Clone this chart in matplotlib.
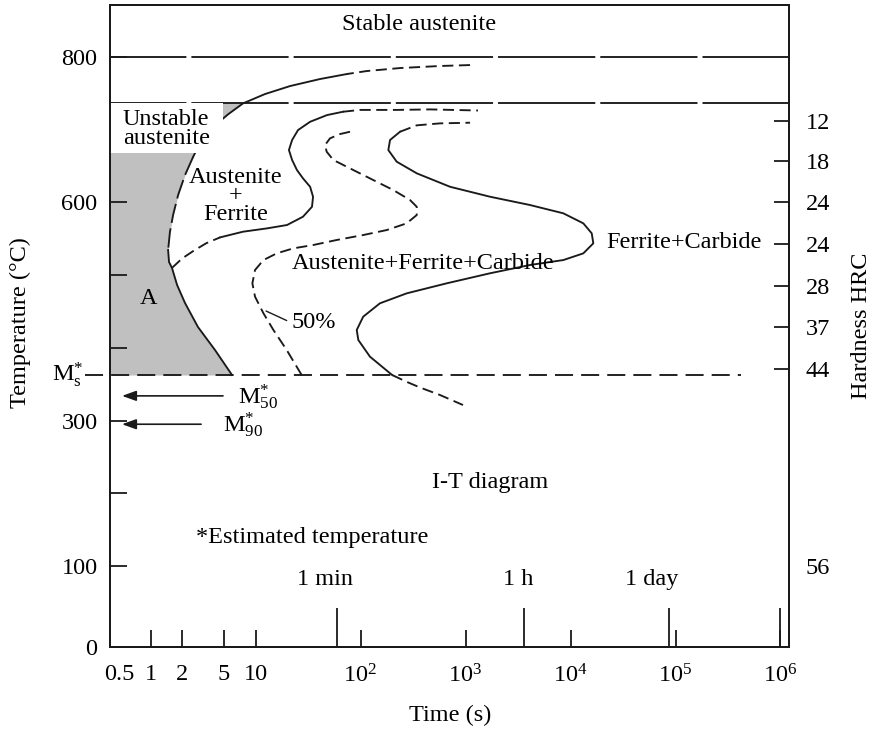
import numpy as np
import matplotlib
matplotlib.use('Agg')
import matplotlib.pyplot as plt
import matplotlib.transforms as mtransforms
from matplotlib.patches import Rectangle
from matplotlib.ticker import FixedLocator, FixedFormatter, NullFormatter, NullLocator

plt.rcParams['font.family'] = ['Liberation Serif', 'DejaVu Serif']
plt.rcParams['mathtext.fontset'] = 'custom'
plt.rcParams['mathtext.rm'] = 'Liberation Serif'
plt.rcParams['mathtext.it'] = 'Liberation Serif:italic'
plt.rcParams['lines.scale_dashes'] = False

# critical temperatures (deg C)
A3_TEMP = 800
A1_TEMP = 737
MS_TEMP = 363
M50_TEMP = 334
M90_TEMP = 295

# ferrite start curve, split where the line style changes (time s, temperature C)
fs_top_t = [1104, 571, 238, 115, 74.4]
fs_top_T = [789.0, 787.7, 784.9, 780.8, 776.7]
fs_upper_t = [74.4, 41.2, 21.3, 12.3, 7.60, 5.47, 4.11, 2.96, 2.54]
fs_upper_T = [776.7, 769.8, 760.1, 749.1, 736.3, 721.2, 706.0, 681.8, 662.5]
fs_mid_t = [2.54, 2.13, 1.83, 1.64, 1.53, 1.47]
fs_mid_T = [662.5, 637.7, 610.2, 582.8, 559.4, 534.6]
fs_low_t = [1.47, 1.50, 1.60, 1.79, 2.13, 2.83, 4.11, 5.97]
fs_low_T = [534.6, 518.1, 510.0, 486.5, 461.7, 428.7, 397.1, 362.7]

# austenite + ferrite boundary
af_start_t = [1.60, 2.00, 2.60, 3.40, 4.60]
af_start_T = [510.0, 523.0, 534.0, 544.0, 552.0]
af_t = [4.60, 7.60, 12.9, 19.95, 28.3, 34.5, 35.3, 33.1, 28.3, 24.8, 22.3,
        20.8, 22.3, 25.4, 33.1, 48.0, 68.1]
af_T = [552.0, 559.8, 564.4, 569.0, 580.4, 594.1, 607.9, 621.6, 633.2, 644.6,
        658.4, 672.1, 685.9, 699.6, 711.0, 720.2, 724.8]
af_top_t = [68.1, 98.9, 223, 459, 1315]
af_top_T = [724.8, 727.3, 727.3, 728.0, 726.5]

# 50 % transformation curve
p50_t = [27.5, 19.8, 14.8, 11.9, 9.89, 9.33, 9.89, 11.9, 15.9, 22.9, 35.5,
         59.3, 106, 178, 275, 343, 343, 296, 205, 132, 85.4, 55.1, 47.6,
         45.9, 51.2, 63.8, 79.5]
p50_T = [362.7, 397.1, 424.6, 447.5, 470.4, 488.8, 507.1, 520.8, 530.0,
         536.9, 541.5, 548.4, 555.2, 562.1, 571.3, 582.7, 594.1, 603.4,
         617.1, 630.9, 644.6, 658.4, 669.8, 679.0, 688.2, 694.1, 697.3]

# transformation finish curve
pf_t = [200, 123, 95.3, 92.0, 106, 153, 275, 662, 1711, 4111, 8539, 13240,
        16490, 15920, 13240, 8539, 4111, 1711, 712, 343, 221, 184, 191, 238]
pf_T = [362.7, 387.9, 410.8, 424.6, 442.9, 461.3, 475.0, 488.8, 502.6, 514.0,
        520.8, 530.0, 543.8, 557.6, 571.3, 585.1, 596.5, 607.9, 621.6, 640.1,
        656.1, 672.1, 685.9, 697.3]
pf_top_t = [238, 343, 571, 1104]
pf_top_T = [697.3, 706.1, 708.8, 709.7]
pf_low_t = [200, 277, 369, 571, 946]
pf_low_T = [362.7, 353.1, 345.5, 335.2, 321.4]

# axis ticks
x_ticks = [0.5, 1, 2, 5, 10, 1e2, 1e3, 1e4, 1e5, 1e6]
x_tick_labels = ['0.5', '1', '2', '5', '10', '$10^2$', '$10^3$', '$10^4$',
                 '$10^5$', '$10^6$']
time_marks = [60, 3600, 86400, 1e6]
time_mark_labels = ['1 min', '1 h', '1 day']
y_ticks = [0, 100, 200, 300, 400, 500, 600, 700, 800]
y_tick_labels = ['0', '100', '', '300', '', '', '600', '', '800']
hrc_T = [712, 657, 600, 543, 485, 429, 371, 100]
hrc_labels = ['12', '18', '24', '24', '28', '37', '44', '56']

INK = '#1a1a1a'
FS = 17.5
LW = 1.35
CURVE_DASH = (0, (8, 4))
LONG_DASH = (15, (70, 3.6))
MS_DASH = (0, (13, 5.8))

fig = plt.figure(figsize=(8.76, 7.31), dpi=100)
ax = fig.add_axes([110 / 876, 84 / 731, 679 / 876, 642 / 731])
ax.set_xscale('log')
ax.set_xlim(0.411, 1.205e6)
ax.set_ylim(-11.4, 871.6)

# shaded unstable austenite region left of the start curve
fill_t = np.concatenate([fs_upper_t[4:], fs_mid_t[1:], fs_low_t[1:]])
fill_T = np.concatenate([fs_upper_T[4:], fs_mid_T[1:], fs_low_T[1:]])
ax.fill_betweenx(fill_T, ax.get_xlim()[0], fill_t, color='#c0c0c0', lw=0, zorder=1)

# critical temperature lines
ax.axhline(A3_TEMP, color=INK, lw=LW, linestyle=LONG_DASH, zorder=2)
ax.axhline(A1_TEMP, color=INK, lw=LW, linestyle=LONG_DASH, zorder=2)
ax.plot([0.24, 4.2e5], [MS_TEMP, MS_TEMP], color=INK, lw=LW,
        linestyle=MS_DASH, clip_on=False, zorder=2)

# transformation curves
ax.plot(fs_top_t, fs_top_T, color=INK, lw=LW, linestyle=CURVE_DASH)
ax.plot(fs_upper_t, fs_upper_T, color=INK, lw=LW)
ax.plot(fs_mid_t, fs_mid_T, color=INK, lw=LW, linestyle=(0, (14, 4)))
ax.plot(fs_low_t, fs_low_T, color=INK, lw=LW)
ax.plot(af_start_t, af_start_T, color=INK, lw=LW, linestyle=CURVE_DASH)
ax.plot(af_t, af_T, color=INK, lw=LW)
ax.plot(af_top_t, af_top_T, color=INK, lw=LW, linestyle=CURVE_DASH)
ax.plot(p50_t, p50_T, color=INK, lw=LW, linestyle=CURVE_DASH)
ax.plot(pf_t, pf_T, color=INK, lw=LW)
ax.plot(pf_top_t, pf_top_T, color=INK, lw=LW, linestyle=CURVE_DASH)
ax.plot(pf_low_t, pf_low_T, color=INK, lw=LW, linestyle=CURVE_DASH)

# white panel behind the "Unstable austenite" note
panel = mtransforms.blended_transform_factory(ax.transAxes, ax.transData)
ax.add_patch(Rectangle((0, 668), 0.1664, A1_TEMP - 668, transform=panel,
                       facecolor='white', edgecolor='none', zorder=3))

# region labels
ax.text(0.455, 0.969, 'Stable austenite', transform=ax.transAxes, fontsize=FS,
        ha='center', va='center')
ax.text(0.0191, 0.807, 'Unstable\naustenite', transform=ax.transAxes,
        fontsize=FS, ha='left', va='center', linespacing=0.88, zorder=4)
ax.text(0.1856, 0.7025, 'Austenite\n+\nFerrite', transform=ax.transAxes,
        fontsize=FS, ha='center', va='center', linespacing=0.84)
ax.text(0.056, 0.5436, 'A', transform=ax.transAxes, fontsize=FS,
        ha='center', va='center')
ax.text(0.461, 0.598, 'Austenite+Ferrite+Carbide', transform=ax.transAxes,
        fontsize=FS, ha='center', va='center')
ax.text(0.845, 0.6293, 'Ferrite+Carbide', transform=ax.transAxes,
        fontsize=FS, ha='center', va='center')
ax.text(0.5597, 0.257, 'I-T diagram', transform=ax.transAxes,
        fontsize=FS, ha='center', va='center')
ax.text(0.2975, 0.1713, '*Estimated temperature', transform=ax.transAxes,
        fontsize=FS, ha='center', va='center')
ax.annotate('50%', xy=(12.6, 450.7), xytext=(0.268, 0.5047),
            textcoords='axes fraction', fontsize=FS, ha='left', va='center',
            arrowprops=dict(arrowstyle='-', color=INK, lw=1.0,
                            shrinkA=2, shrinkB=0, relpos=(0, 0.5)))

# martensite temperatures
ax.text(-0.0398, MS_TEMP, r'$\mathrm{M}_{\mathrm{s}}^{*}$', transform=panel,
        fontsize=FS, ha='right', va='center', clip_on=False)
arrow = dict(arrowstyle='-|>,head_length=0.5,head_width=0.18', color=INK,
             lw=1.2, mutation_scale=17, shrinkA=0, shrinkB=0)
ax.annotate('', xy=(0.535, M50_TEMP), xytext=(4.90, M50_TEMP), arrowprops=arrow)
ax.annotate('', xy=(0.535, M90_TEMP), xytext=(3.03, M90_TEMP), arrowprops=arrow)
ax.text(6.81, M50_TEMP - 2, r'$\mathrm{M}_{50}^{*}$', fontsize=FS,
        ha='left', va='center')
ax.text(4.90, M90_TEMP - 2, r'$\mathrm{M}_{90}^{*}$', fontsize=FS,
        ha='left', va='center')

# named time marks above the long ticks
mark_tf = ax.get_xaxis_transform()
for t, lab, dx in zip(time_marks, time_mark_labels, [-12, -6, -17]):
    ax.text(t, 0.1044, lab, fontsize=FS, ha='center', va='center',
            transform=mtransforms.offset_copy(mark_tf, fig=fig, x=dx, y=0,
                                              units='dots'))

# x axis
ax.xaxis.set_major_locator(FixedLocator(x_ticks))
ax.xaxis.set_major_formatter(FixedFormatter(x_tick_labels))
ax.xaxis.set_minor_locator(FixedLocator(time_marks))
ax.xaxis.set_minor_formatter(NullFormatter())
ax.xaxis.remove_overlapping_locs = False
ax.tick_params(axis='x', which='major', direction='in', length=12, width=1.3,
               pad=12.5, labelsize=FS, color=INK)
ax.tick_params(axis='x', which='minor', direction='in', length=28, width=1.3,
               color=INK)
ax.set_xlabel('Time (s)', fontsize=FS, va='center')
ax.xaxis.set_label_coords(0.5007, -0.106)

# left axis
ax.yaxis.set_major_locator(FixedLocator(y_ticks))
ax.yaxis.set_major_formatter(FixedFormatter(y_tick_labels))
ax.yaxis.set_minor_locator(NullLocator())
ax.tick_params(axis='y', which='major', direction='in', length=12, width=1.3,
               pad=9, labelsize=FS, color=INK)
ax.set_ylabel('Temperature (°C)', fontsize=FS, va='center')
ax.yaxis.set_label_coords(-0.1325, 0.505)

# right axis: hardness
ax2 = ax.twinx()
ax2.set_ylim(ax.get_ylim())
ax2.yaxis.set_major_locator(FixedLocator(hrc_T))
ax2.yaxis.set_major_formatter(FixedFormatter(hrc_labels))
ax2.yaxis.set_minor_locator(NullLocator())
ax2.tick_params(axis='y', which='major', direction='in', length=11, width=1.3,
                pad=12, labelsize=FS, color=INK)
ax2.set_ylabel('Hardness HRC', fontsize=FS, va='center')
ax2.yaxis.set_label_coords(1.1075, 0.50)

# corner ticks sit on the spines, so only their labels are kept
ax.xaxis.get_major_ticks()[0].tick1line.set_visible(False)
zero_tick = ax.yaxis.get_major_ticks()[0]
zero_tick.tick1line.set_visible(False)
zero_tick.label1.set_transform(zero_tick.label1.get_transform()
                               + mtransforms.ScaledTranslation(0, -0.08, fig.dpi_scale_trans))
ax2.yaxis.get_major_ticks()[-1].tick2line.set_visible(False)

for a in (ax, ax2):
    for s in a.spines.values():
        s.set_linewidth(1.4)
        s.set_color(INK)

fig.savefig('out.png', dpi=100)
